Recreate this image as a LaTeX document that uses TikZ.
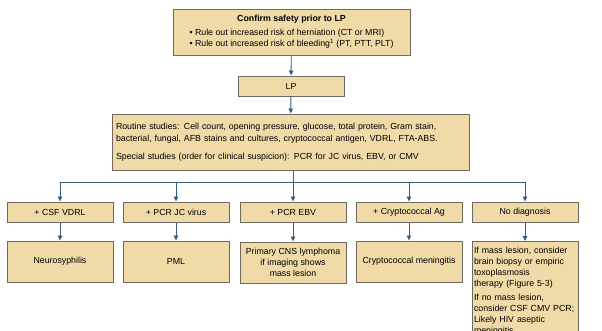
\documentclass[tikz,border=0pt]{standalone}
\usepackage{fontspec}
\setmainfont{Liberation Sans}
\usetikzlibrary{arrows.meta}
\definecolor{boxfill}{HTML}{F0DAA8}
\definecolor{boxline}{HTML}{6E6A60}
\definecolor{arrowc}{HTML}{3A5E7E}
\tikzset{
  box/.style={draw=boxline, fill=boxfill, line width=1pt, inner sep=2pt, font=\fontsize{8.8}{11}\selectfont},
  conn/.style={draw=arrowc, line width=0.9pt},
  arr/.style={conn, -{Triangle[length=5pt,width=4.5pt]}}
}
\begin{document}
\begin{tikzpicture}[x=1pt,y=-1pt]
\useasboundingbox (0,0) rectangle (602,330);
\clip (0,0) rectangle (602,330);
\fill[white] (0,0) rectangle (602,330);
\node[box, minimum width=237pt, minimum height=46pt] (top) at (291.5,32) {\begin{tabular}{@{}l@{}}\multicolumn{1}{@{}c@{}}{\bfseries Confirm safety prior to LP}\\[3pt]
\textbullet\ Rule out increased risk of herniation (CT or MRI)\\
\textbullet\ Rule out increased risk of bleeding\textsuperscript{1} (PT, PTT, PLT)\end{tabular}};
\node[box, minimum width=106pt, minimum height=20pt] (lp) at (291,86) {LP};
\node[box, minimum width=357pt, minimum height=56pt, text width=349pt, align=left] (rout) at (290.5,142) {Routine studies: Cell count, opening pressure, glucose, total protein, Gram stain,\\[1.5pt]
bacterial, fungal, AFB stains and cultures, cryptococcal antigen, VDRL, FTA-ABS.\\[7pt]
Special studies (order for clinical suspicion): PCR for JC virus, EBV, or CMV};
\foreach \n/\x/\t in {a/60/+ CSF VDRL, b/176/+ PCR JC virus, c/293/+ PCR EBV, d/409/+ Cryptococcal Ag, e/525/No diagnosis}{
  \node[box, minimum width=106pt, minimum height=20pt] (r\n) at (\x,212) {\t};
}
\node[box, minimum width=106pt, minimum height=41pt] (sa) at (60,261.5) {Neurosyphilis};
\node[box, minimum width=106pt, minimum height=41pt] (sb) at (176,261.5) {PML};
\node[box, minimum width=106pt, minimum height=41pt, align=center] (sc) at (293,262.5) {Primary CNS lymphoma\\if imaging shows\\mass lesion};
\node[box, minimum width=106pt, minimum height=41pt] (sd) at (409,261.5) {Cryptococcal meningitis};
\node[box, anchor=north, minimum width=106pt, text width=102pt, align=left, inner xsep=2pt, inner ysep=6pt] (se) at (525,241) {If mass lesion, consider\\brain biopsy or empiric\\toxoplasmosis\\therapy (Figure 5-3)\\[3pt]
If no mass lesion,\\consider CSF CMV PCR;\\Likely HIV aseptic\\meningitis\\[6pt]};
\draw[arr] (top) -- (lp);
\draw[arr] (lp) -- (rout);
\coordinate (bus) at (293,182);
\draw[conn] (rout.south -| bus) -- (bus);
\draw[conn] (bus -| ra) -- (bus -| re);
\foreach \n in {a,b,c,d,e}{
  \draw[arr] (bus -| r\n) -- (r\n.north);
  \draw[arr] (r\n.south) -- (s\n.north);
}
\end{tikzpicture}
\end{document}
